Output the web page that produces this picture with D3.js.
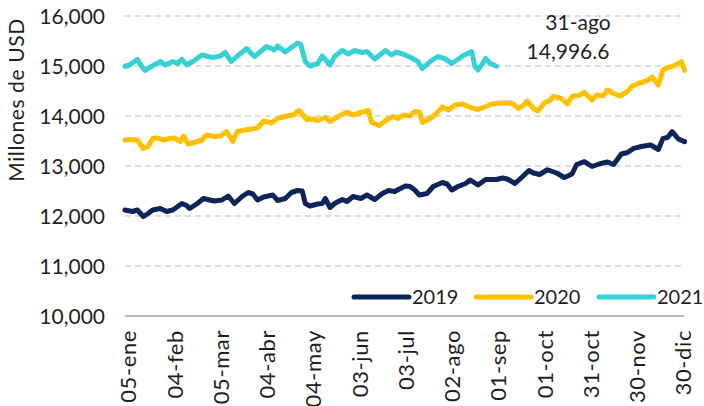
<!DOCTYPE html>
<html>
<head>
<meta charset="utf-8">
<script src="https://cdn.jsdelivr.net/npm/d3@7"></script>
<style>
  body { margin: 0; background: #fff; }
  text { font-family: Lato, "Open Sans", sans-serif; fill: #1f1f1f; }
</style>
</head>
<body>
<svg id="chart" width="704" height="406"></svg>
<script>
// Datos: día del año (calendario 2020) y valor en millones de USD
var dias2019 = [3, 8, 11, 15, 18, 21, 26, 30, 34, 40, 43, 45, 50, 54, 58, 61, 66, 70, 74, 79, 83, 86, 89, 93,
    99, 102, 107, 111, 115, 118, 120, 123, 128, 131, 133, 136, 139, 144, 147, 151, 156, 160, 165, 170, 174,
    178, 181, 185, 188, 191, 194, 199, 203, 209, 212, 215, 219, 224, 227, 232, 237, 241, 244, 248, 251, 256,
    261, 265, 268, 272, 277, 283, 288, 293, 296, 301, 306, 311, 316, 320, 325, 329, 333, 338, 344, 349, 352,
    355, 358, 362, 366];
var valores2019 = [12120, 12090, 12120, 11990, 12050, 12120, 12150, 12090, 12120, 12250, 12210, 12150, 12250,
    12350, 12320, 12300, 12320, 12400, 12250, 12390, 12470, 12440, 12320, 12380, 12420, 12310, 12350, 12470,
    12510, 12500, 12250, 12200, 12240, 12250, 12350, 12170, 12250, 12330, 12290, 12390, 12350, 12420, 12330,
    12450, 12510, 12490, 12540, 12600, 12590, 12520, 12420, 12450, 12590, 12670, 12640, 12520, 12590, 12650,
    12720, 12620, 12730, 12730, 12730, 12760, 12740, 12650, 12790, 12910, 12860, 12830, 12925, 12860, 12770,
    12840, 13030, 13087, 12990, 13045, 13080, 13030, 13240, 13270, 13353, 13390, 13420, 13330, 13553, 13570,
    13687, 13540, 13487];

var dias2020 = [3, 6, 11, 15, 18, 21, 24, 28, 32, 35, 39, 41, 44, 48, 53, 56, 61, 65, 69, 73, 76, 81, 85, 89,
    93, 98, 102, 108, 112, 116, 121, 125, 128, 133, 136, 143, 147, 151, 156, 161, 163, 168, 173, 177, 180,
    184, 188, 191, 194, 196, 201, 205, 209, 213, 217, 222, 227, 232, 237, 241, 246, 251, 255, 258, 261, 264,
    268, 271, 275, 279, 281, 286, 290, 293, 298, 301, 306, 309, 313, 316, 320, 324, 329, 332, 336, 342, 345,
    349, 352, 355, 358, 362, 364, 366];
var valores2020 = [13520, 13530, 13520, 13350, 13390, 13550, 13560, 13520, 13550, 13560, 13490, 13600, 13440,
    13470, 13520, 13620, 13590, 13600, 13690, 13490, 13690, 13720, 13740, 13760, 13900, 13860, 13950, 14000,
    14020, 14110, 13930, 13940, 13910, 13970, 13890, 14020, 14080, 14020, 14070, 14110, 13870, 13810, 13930,
    13990, 13950, 14020, 14000, 14090, 14080, 13870, 13950, 14050, 14180, 14120, 14220, 14240, 14170, 14130,
    14190, 14240, 14255, 14265, 14240, 14150, 14200, 14300, 14150, 14100, 14260, 14320, 14390, 14350, 14240,
    14390, 14420, 14470, 14320, 14420, 14400, 14520, 14450, 14400, 14490, 14600, 14650, 14710, 14780, 14620,
    14920, 14970, 14990, 15050, 15090, 14910];

var dias2021 = [3, 6, 11, 14, 16, 19, 26, 29, 34, 37, 40, 43, 47, 53, 57, 60, 65, 68, 72, 76, 82, 85, 87, 91,
    95, 100, 102, 107, 115, 117, 120, 123, 128, 131, 136, 139, 144, 148, 152, 157, 160, 165, 172, 176, 179,
    185, 189, 193, 196, 201, 206, 211, 215, 219, 222, 228, 230, 232, 235, 237, 240, 244];
var valores2021 = [14990, 15020, 15130, 14990, 14910, 14970, 15090, 15020, 15090, 15050, 15130, 15020, 15090,
    15220, 15190, 15170, 15200, 15270, 15090, 15200, 15350, 15250, 15190, 15290, 15390, 15320, 15400, 15280,
    15460, 15430, 15090, 15000, 15050, 15200, 15020, 15190, 15310, 15240, 15310, 15270, 15290, 15140, 15310,
    15220, 15280, 15220, 15160, 15090, 14950, 15090, 15190, 15140, 15050, 15130, 15200, 15290, 14990, 14920,
    15050, 15150, 15050, 14996.6];

var tickDias = [5, 35, 65, 95, 125, 155, 185, 215, 245, 275, 305, 335, 365];
var tickEtiquetas = ["05-ene", "04-feb", "05-mar", "04-abr", "04-may", "03-jun", "03-jul",
    "02-ago", "01-sep", "01-oct", "31-oct", "30-nov", "30-dic"];
var yTicks = [10000, 11000, 12000, 13000, 14000, 15000, 16000];

var series = [
    { nombre: "2019", dias: dias2019, valores: valores2019, color: "#0B2559" },
    { nombre: "2020", dias: dias2020, valores: valores2020, color: "#FFC000" },
    { nombre: "2021", dias: dias2021, valores: valores2021, color: "#36D0D5" }
];

var svg = d3.select("#chart");

var x = d3.scaleLinear().domain([5, 365]).range([128, 683]);
var y = d3.scaleLinear().domain([10000, 16000]).range([316, 16]);

// Grid lines
svg.append("g")
    .selectAll("line")
    .data(yTicks.slice(1))
    .enter().append("line")
    .attr("x1", 125).attr("x2", 684)
    .attr("y1", function(d) { return y(d); })
    .attr("y2", function(d) { return y(d); })
    .attr("stroke", "#d4d4d4")
    .attr("stroke-width", 1.3)
    .attr("stroke-dasharray", "6,4");

// Y axis labels
var yAxis = d3.axisLeft(y).tickValues(yTicks).tickFormat(d3.format(",")).tickSize(0).tickPadding(0);
var gy = svg.append("g").attr("transform", "translate(105,0)").call(yAxis);
gy.select(".domain").remove();
gy.selectAll("text").style("font-size", "21px").attr("dy", "0.36em");

// X axis
var xAxis = d3.axisBottom(x).tickValues(tickDias)
    .tickFormat(function(d, i) { return tickEtiquetas[i]; })
    .tickSize(0);
var gx = svg.append("g").attr("transform", "translate(0," + y(10000) + ")").call(xAxis);
gx.select(".domain").remove();
gx.append("line")
    .attr("x1", 125).attr("x2", 684)
    .attr("stroke", "#a6a6a6").attr("stroke-width", 1.5);
gx.selectAll(".tick text")
    .style("font-size", "22px")
    .style("letter-spacing", "0.6px")
    .attr("text-anchor", "end")
    .attr("transform", "rotate(-90)")
    .attr("x", -14).attr("y", 0).attr("dy", "0.36em");

// Y title
svg.append("text")
    .attr("transform", "translate(24,100) rotate(-90)")
    .attr("text-anchor", "middle")
    .style("font-size", "21px")
    .style("letter-spacing", "0.6px")
    .text("Millones de USD");

// Lines
var line = d3.line()
    .x(function(d) { return x(d[0]); })
    .y(function(d) { return y(d[1]); });

series.forEach(function(s) {
    var pts = s.dias.map(function(d, i) { return [d, s.valores[i]]; });
    svg.append("path")
        .datum(pts)
        .attr("d", line)
        .attr("fill", "none")
        .attr("stroke", s.color)
        .attr("stroke-width", 5)
        .attr("stroke-linejoin", "round")
        .attr("stroke-linecap", "round");
});

// Annotation
svg.append("text").attr("x", 578).attr("y", 30).attr("text-anchor", "middle")
    .style("font-size", "21px").text("31-ago");
svg.append("text").attr("x", 568).attr("y", 59).attr("text-anchor", "middle")
    .style("font-size", "21px").text(d3.format(",.1f")(valores2021[valores2021.length - 1]));

// Legend
var legend = svg.append("g");
var legendX = [354, 476, 599];
series.forEach(function(s, i) {
    var g = legend.append("g").attr("transform", "translate(" + legendX[i] + ",297)");
    g.append("line").attr("x1", 0).attr("x2", 55)
        .attr("stroke", s.color).attr("stroke-width", 5).attr("stroke-linecap", "round");
    g.append("text").attr("x", 58).attr("dy", "0.36em").style("font-size", "20px").text(s.nombre);
});
</script>
</body>
</html>
